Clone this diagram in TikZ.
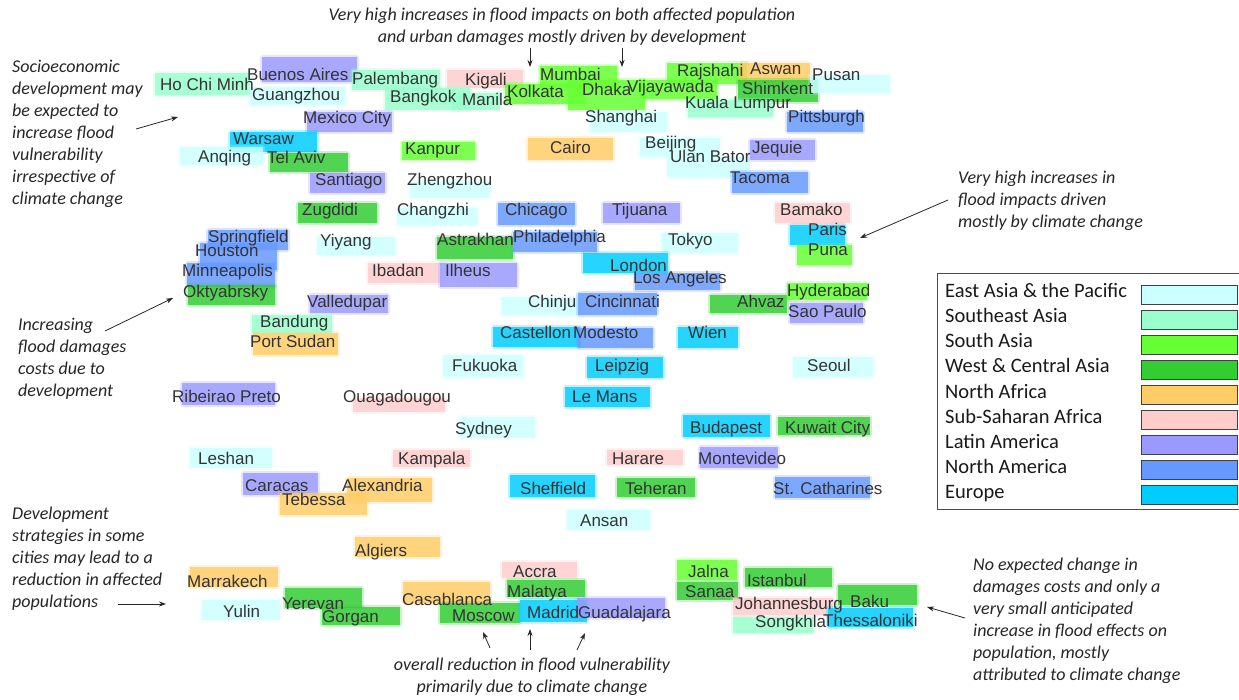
\documentclass[tikz,border=0pt]{standalone}
\usepackage{fontspec}
\newfontfamily\arialf{Liberation Sans}
\newfontfamily\calif{Carlito}
\usetikzlibrary{arrows.meta}
\pgfdeclarelayer{bg}
\pgfsetlayers{bg,main}
\definecolor{ea}{HTML}{CCFFFF}
\definecolor{sea}{HTML}{99FFCC}
\definecolor{sa}{HTML}{66FF33}
\definecolor{wca}{HTML}{33CC33}
\definecolor{naf}{HTML}{FFCC66}
\definecolor{ssa}{HTML}{FFCCCC}
\definecolor{lam}{HTML}{9999FF}
\definecolor{nam}{HTML}{6699FF}
\definecolor{eur}{HTML}{00CCFF}
\tikzset{
 city/.style={font=\arialf\fontsize{17}{20}\selectfont, text=black!80, inner sep=0pt, anchor=base west},
 rsoft/.style={opacity=0.25, rounded corners=3pt},
 rcore/.style={opacity=0.8},
 note/.style={font=\calif\itshape\fontsize{18}{22}\selectfont, text=black!85, inner sep=0pt, align=left, anchor=north west},
 notec/.style={note, align=center, anchor=north},
 arr/.style={-{Stealth[length=7pt,width=5pt]}, line width=0.8pt, black!85},
 legtxt/.style={font=\calif\fontsize{20.5}{24}\selectfont, text=black!90, inner sep=0pt, anchor=base west},
 swatch/.style={draw=black!75, line width=0.9pt}
}
\newcommand{\ct}[9]{%
 \begin{pgfonlayer}{bg}
 \fill[#5,rsoft] (#6-2,#7-2) rectangle (#8+2,#9+2);
 \fill[#5,rcore] (#6,#7) rectangle (#8,#9);
 \end{pgfonlayer}
 \node[city] (#1) at (#2,#3+6) {#4};}
\begin{document}
\begin{tikzpicture}[x=1pt,y=-1pt]
\useasboundingbox (0,0) rectangle (1239,700);
% cities
\ct{hcm}{160}{85}{Ho Chi Minh}{sea}{155}{73}{250}{95}
\ct{ba}{247}{75}{Buenos Aires}{lam}{262}{57}{357}{82}
\ct{gz}{252}{95}{Guangzhou}{ea}{250}{87}{345}{105}
\ct{pal}{352}{79}{Palembang}{sea}{352}{70}{440}{90}
\ct{kig}{465}{80}{Kigali}{ssa}{447}{70}{523}{88}
\ct{bkk}{390}{97}{Bangkok}{sea}{385}{88}{470}{110}
\ct{man}{462}{100}{Manila}{sea}{452}{93}{500}{110}
\ct{mum}{540}{75}{Mumbai}{sa}{540}{66}{617}{88}
\ct{kol}{507}{92}{Kolkata}{sa}{505}{84}{585}{104}
\ct{dha}{582}{90}{Dhaka}{sa}{568}{80}{645}{110}
\ct{vij}{627}{87}{Vijayawada}{sa}{640}{80}{717}{99}
\ct{sha}{585}{117}{Shanghai}{ea}{590}{112}{667}{132}
\ct{raj}{677}{71}{Rajshahi}{sa}{667}{63}{747}{84}
\ct{asw}{750}{69}{Aswan}{naf}{740}{63}{810}{83}
\ct{shi}{742}{89}{Shimkent}{wca}{738}{80}{818}{102}
\ct{pus}{812}{75}{Pusan}{ea}{810}{75}{890}{93}
\ct{kl}{685}{103}{Kuala Lumpur}{sea}{688}{100}{773}{117}
\ct{pit}{788}{117}{Pittsburgh}{nam}{787}{112}{863}{132}
\ct{mex}{303}{118}{Mexico City}{lam}{307}{112}{392}{132}
\ct{war}{233}{139}{Warsaw}{eur}{230}{132}{317}{152}
\ct{anq}{198}{157}{Anqing}{ea}{180}{147}{263}{165}
\ct{tel}{267}{158}{Tel Aviv}{wca}{270}{153}{348}{172}
\ct{san}{315}{180}{Santiago}{lam}{310}{173}{385}{193}
\ct{kan}{405}{149}{Kanpur}{sa}{402}{142}{475}{160}
\ct{zhe}{407}{180}{Zhengzhou}{ea}{410}{182}{490}{198}
\ct{cai}{550}{148}{Cairo}{naf}{528}{138}{613}{160}
\ct{bei}{645}{143}{Beijing}{ea}{640}{138}{720}{157}
\ct{ula}{670}{157}{Ulan Bator}{ea}{667}{157}{750}{177}
\ct{jeq}{752}{148}{Jequie}{lam}{750}{140}{815}{160}
\ct{tac}{730}{178}{Tacoma}{nam}{732}{172}{808}{193}
\ct{zug}{302}{210}{Zugdidi}{wca}{298}{203}{377}{223}
\ct{cha}{397}{210}{Changzhi}{ea}{397}{208}{477}{225}
\ct{chi}{505}{210}{Chicago}{nam}{498}{203}{575}{225}
\ct{tij}{612}{210}{Tijuana}{lam}{603}{203}{680}{223}
\ct{bam}{780}{210}{Bamako}{ssa}{775}{203}{850}{223}
\ct{spr}{208}{237}{Springfield}{nam}{208}{230}{288}{250}
\ct{hou}{195}{251}{Houston}{nam}{200}{243}{277}{270}
\ct{yiy}{320}{241}{Yiyang}{ea}{317}{237}{395}{255}
\ct{ast}{437}{240}{Astrakhan}{wca}{437}{237}{513}{259}
\ct{phi}{513}{237}{Philadelphia}{nam}{513}{232}{597}{252}
\ct{tok}{668}{240}{Tokyo}{ea}{662}{233}{738}{253}
\ct{par}{808}{230}{Paris}{eur}{790}{225}{845}{245}
\ct{pun}{808}{250}{Puna}{sa}{797}{245}{852}{265}
\ct{min}{182}{271}{Minneapolis}{nam}{187}{263}{275}{287}
\ct{iba}{372}{271}{Ibadan}{ssa}{368}{263}{440}{283}
\ct{ilh}{445}{271}{Ilheus}{lam}{440}{263}{517}{287}
\ct{lon}{610}{266}{London}{eur}{583}{253}{668}{273}
\ct{la}{633}{278}{Los Angeles}{nam}{635}{273}{720}{290}
\ct{okt}{183}{292}{Oktyabrsky}{wca}{188}{285}{275}{305}
\ct{val}{307}{302}{Valledupar}{lam}{310}{295}{388}{313}
\ct{chj}{528}{302}{Chinju}{ea}{502}{297}{583}{315}
\ct{cin}{585}{302}{Cincinnati}{nam}{578}{293}{657}{315}
\ct{ahv}{737}{302}{Ahvaz}{wca}{710}{295}{787}{313}
\ct{hyd}{787}{291}{Hyderabad}{sa}{787}{283}{867}{300}
\ct{sao}{788}{312}{Sao Paulo}{lam}{790}{303}{863}{323}
\ct{ban}{260}{322}{Bandung}{sea}{252}{315}{332}{333}
\ct{pts}{250}{342}{Port Sudan}{naf}{253}{333}{338}{355}
\ct{cas}{500}{333}{Castellon}{eur}{493}{327}{580}{347}
\ct{mod}{573}{333}{Modesto}{nam}{578}{328}{653}{348}
\ct{wie}{688}{333}{Wien}{eur}{678}{327}{738}{348}
\ct{fuk}{452}{365}{Fukuoka}{ea}{443}{355}{523}{377}
\ct{lei}{595}{365}{Leipzig}{eur}{587}{357}{663}{378}
\ct{seo}{807}{365}{Seoul}{ea}{793}{357}{873}{377}
\ct{rib}{172}{396}{Ribeirao Preto}{lam}{182}{383}{275}{405}
\ct{oua}{343}{396}{Ouagadougou}{ssa}{353}{398}{445}{412}
\ct{lem}{572}{396}{Le Mans}{eur}{565}{387}{650}{407}
\ct{syd}{455}{428}{Sydney}{ea}{460}{417}{535}{438}
\ct{bud}{690}{427}{Budapest}{eur}{683}{415}{770}{437}
\ct{kuw}{785}{427}{Kuwait City}{wca}{778}{417}{870}{435}
\ct{les}{198}{458}{Leshan}{ea}{190}{448}{272}{468}
\ct{kam}{398}{458}{Kampala}{ssa}{393}{450}{470}{467}
\ct{har}{612}{458}{Harare}{ssa}{607}{450}{683}{465}
\ct{mon}{698}{458}{Montevideo}{lam}{700}{447}{778}{468}
\ct{car}{245}{485}{Caracas}{lam}{243}{473}{318}{495}
\ct{teb}{282}{499}{Tebessa}{naf}{280}{493}{367}{515}
\ct{ale}{342}{485}{Alexandria}{naf}{347}{478}{432}{502}
\ct{she}{520}{488}{Sheffield}{eur}{510}{475}{595}{497}
\ct{teh}{625}{488}{Teheran}{wca}{617}{478}{695}{497}
\ct{stc}{773}{488}{St. Catharines}{nam}{775}{477}{870}{498}
\ct{ans}{580}{520}{Ansan}{ea}{567}{510}{650}{530}
\ct{alg}{355}{550}{Algiers}{naf}{355}{537}{440}{557}
\ct{mar}{187}{581}{Marrakech}{naf}{190}{567}{278}{587}
\ct{yul}{223}{611}{Yulin}{ea}{202}{600}{280}{620}
\ct{yer}{282}{603}{Yerevan}{wca}{285}{588}{362}{608}
\ct{gor}{322}{616}{Gorgan}{wca}{322}{607}{400}{625}
\ct{csb}{402}{599}{Casablanca}{naf}{403}{582}{490}{603}
\ct{mos}{452}{615}{Moscow}{wca}{440}{603}{520}{623}
\ct{acc}{513}{571}{Accra}{ssa}{502}{562}{577}{578}
\ct{mal}{507}{591}{Malatya}{wca}{507}{580}{585}{597}
\ct{mad}{527}{612}{Madrid}{eur}{520}{600}{587}{622}
\ct{gua}{578}{612}{Guadalajara}{lam}{577}{598}{665}{618}
\ct{jal}{688}{571}{Jalna}{sa}{677}{560}{737}{580}
\ct{sna}{685}{591}{Sanaa}{wca}{677}{582}{738}{600}
\ct{ist}{747}{580}{Istanbul}{wca}{745}{568}{832}{587}
\ct{joh}{735}{603}{Johannesburg}{ssa}{733}{598}{833}{615}
\ct{bak}{850}{601}{Baku}{wca}{838}{585}{917}{605}
\ct{son}{755}{621}{Songkhla}{sea}{733}{617}{813}{633}
\ct{the}{823}{620}{Thessaloniki}{eur}{828}{608}{913}{627}
% annotations
\node[notec] (ntop) at (562,8) {Very high increases in flood impacts on both affected population\\and urban damages mostly driven by development};
\node[note] (nsoc) at (12,60) {Socioeconomic\\development may\\be expected to\\increase flood\\vulnerability\\irrespective of\\climate change};
\node[note] (ninc) at (18,318) {Increasing\\flood damages\\costs due to\\development};
\node[note] (ndev) at (12,507) {Development\\strategies in some\\cities may lead to a\\reduction in affected\\populations};
\node[note] (nvhc) at (958,171) {Very high increases in\\flood impacts driven\\mostly by climate change};
\node[note] (nnoc) at (973,558) {No expected change in\\damages costs and only a\\very small anticipated\\increase in flood effects on\\population, mostly\\attributed to climate change};
\node[notec] (nbot) at (532,658) {overall reduction in flood vulnerability\\primarily due to climate change};
% arrows
\coordinate (t1s) at (530,48); \coordinate (t1e) at (530,67);
\coordinate (t2s) at (622,48); \coordinate (t2e) at (622,67);
\coordinate (l1s) at (136,129); \coordinate (l1e) at (178,117);
\coordinate (l2s) at (105,331); \coordinate (l2e) at (173,298);
\coordinate (l3s) at (118,604); \coordinate (l3e) at (166,604);
\coordinate (r1s) at (948,200); \coordinate (r1e) at (860,238);
\coordinate (r2s) at (965,618); \coordinate (r2e) at (927,607);
\coordinate (b1s) at (490,648); \coordinate (b1e) at (483,632);
\coordinate (b2s) at (530,650); \coordinate (b2e) at (530,629);
\coordinate (b3s) at (577,650); \coordinate (b3e) at (585,633);
\foreach \a in {t1,t2,l1,l2,l3,r1,r2,b1,b2,b3} {\draw[arr] (\a s) -- (\a e);}
% legend
\draw[black!70, line width=1pt] (1240,274) -- (937,274) -- (937,509) -- (1240,509);
\foreach \t/\c [count=\i from 0] in {East Asia \& the Pacific/ea, Southeast Asia/sea, South Asia/sa, West \& Central Asia/wca, North Africa/naf, Sub-Saharan Africa/ssa, Latin America/lam, North America/nam, Europe/eur} {
 \node[legtxt] (lt\i) at (945,291+25*\i+7) {\t};
 \draw[swatch, fill=\c] (1141,291+25*\i-6) rectangle (1237,291+25*\i+13);
}
\end{tikzpicture}
\end{document}
